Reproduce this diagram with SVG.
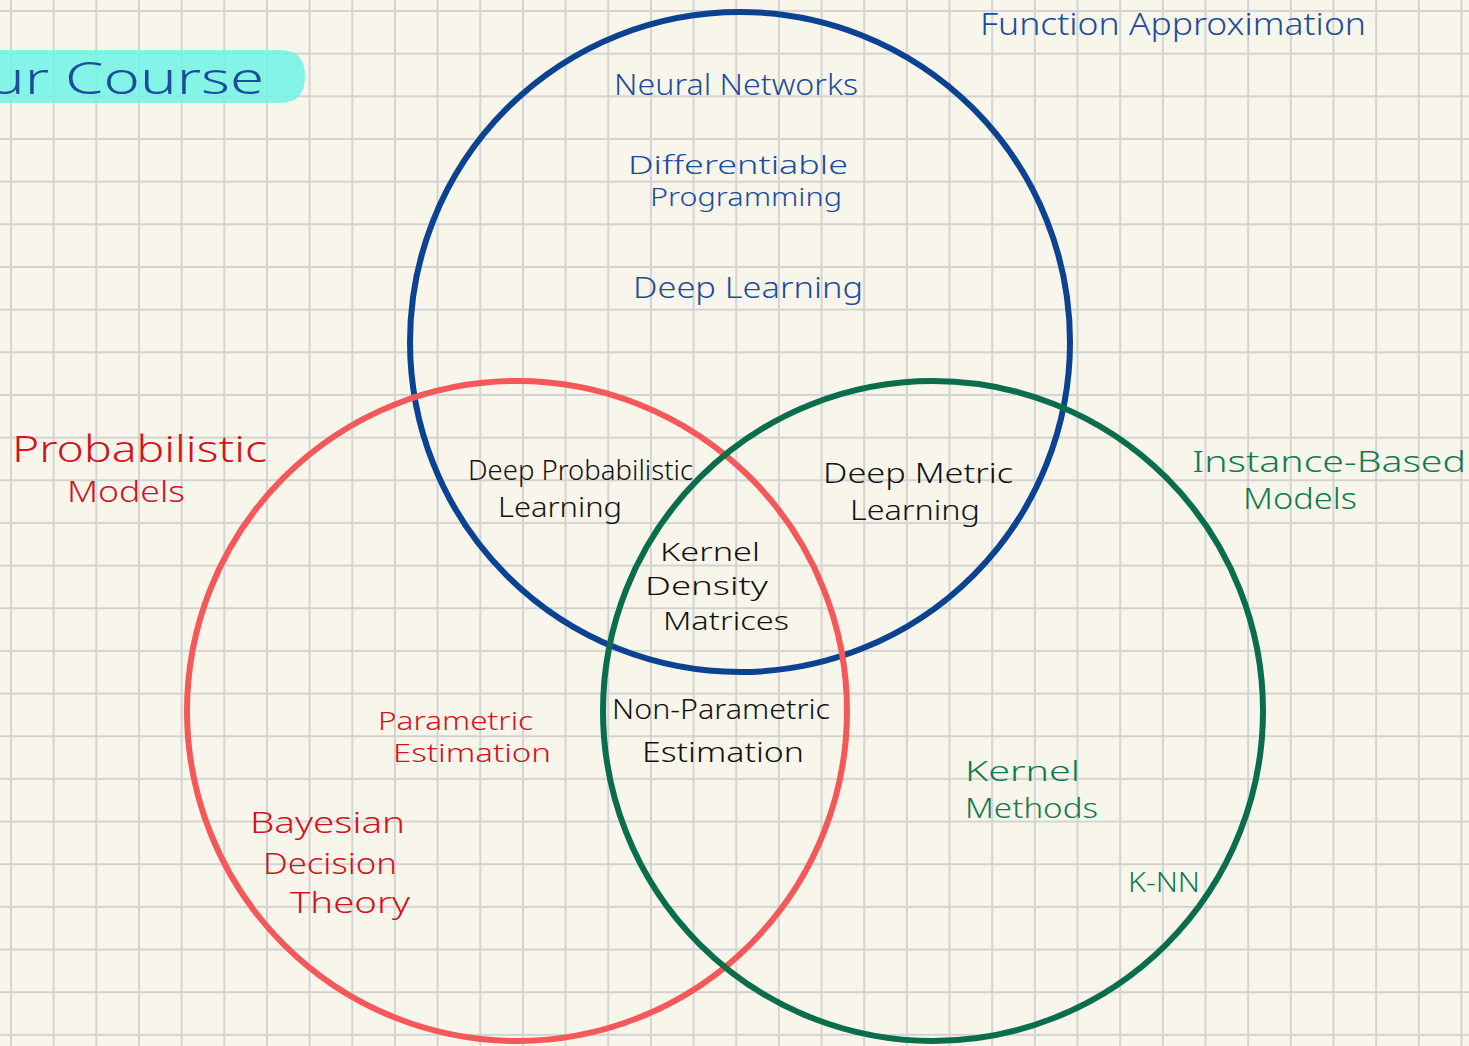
<svg xmlns="http://www.w3.org/2000/svg" width="1469" height="1046" viewBox="0 0 1469 1046">
  <defs>
    <pattern id="grid" patternUnits="userSpaceOnUse" x="10" y="10" width="42.66" height="42.66">
      <path d="M1 0V42.66M0 1H42.66" stroke="#d3d3d3" stroke-width="2" fill="none"/>
    </pattern>
    <style>
      .set { fill: none; stroke-width: 6; }
      .lbl { font-family: "Noto Sans", "Liberation Sans", sans-serif; font-size: 29px; font-weight: 300; }
      .s25 { font-size: 25px; }
      .s27 { font-size: 27px; }
      .s32 { font-size: 32px; }
      .s36 { font-size: 36px; }
      .s44 { font-size: 44px; }
      .blue { fill: #1c4c9c; }
      .red { fill: #d3121c; }
      .green { fill: #127a52; }
      .black { fill: #111111; }
    </style>
  </defs>

  <!-- paper -->
  <rect width="1469" height="1046" fill="#f8f6ea"/>
  <rect width="1469" height="1046" fill="url(#grid)"/>

  <!-- course title with highlighter stroke -->
  <g id="title">
    <path d="M-10 50 H280 Q305 50 305 76 Q305 103 280 103 H-10 Z" fill="#6ef3e4" opacity="0.85"/>
    <text x="-12" y="94" class="lbl s44 blue" textLength="276" lengthAdjust="spacingAndGlyphs">ur Course</text>
  </g>

  <!-- the three sets -->
  <g id="set-function-approximation">
    <circle class="set" cx="740" cy="342" r="330" stroke="#0b4291"/>
    <text x="980" y="35" class="lbl s32 blue" textLength="386" lengthAdjust="spacingAndGlyphs">Function Approximation</text>
  </g>
  <g id="set-probabilistic">
    <circle class="set" cx="517" cy="711" r="330" stroke="#f45858"/>
    <text x="12" y="462" class="lbl s36 red" textLength="255" lengthAdjust="spacingAndGlyphs">Probabilistic</text>
    <text x="67" y="502" class="lbl red" textLength="118" lengthAdjust="spacingAndGlyphs">Models</text>
  </g>
  <g id="set-instance-based">
    <circle class="set" cx="933" cy="711" r="330" stroke="#0a6e4c"/>
    <text x="1192" y="472" class="lbl green" textLength="274" lengthAdjust="spacingAndGlyphs">Instance-Based</text>
    <text x="1243" y="509" class="lbl green" textLength="114" lengthAdjust="spacingAndGlyphs">Models</text>
  </g>

  <!-- region labels -->
  <g id="neural-networks">
    <text x="614" y="95" class="lbl blue" textLength="244" lengthAdjust="spacingAndGlyphs">Neural Networks</text>
  </g>
  <g id="differentiable-programming">
    <text x="628" y="174" class="lbl s25 blue" textLength="220" lengthAdjust="spacingAndGlyphs">Differentiable</text>
    <text x="650" y="206" class="lbl s25 blue" textLength="192" lengthAdjust="spacingAndGlyphs">Programming</text>
  </g>
  <g id="deep-learning">
    <text x="633" y="298" class="lbl blue" textLength="230" lengthAdjust="spacingAndGlyphs">Deep Learning</text>
  </g>
  <g id="deep-probabilistic-learning">
    <text x="468" y="480" class="lbl s27 black" textLength="225" lengthAdjust="spacingAndGlyphs">Deep Probabilistic</text>
    <text x="498" y="517" class="lbl s27 black" textLength="124" lengthAdjust="spacingAndGlyphs">Learning</text>
  </g>
  <g id="deep-metric-learning">
    <text x="823" y="483" class="lbl s27 black" textLength="190" lengthAdjust="spacingAndGlyphs">Deep Metric</text>
    <text x="850" y="520" class="lbl s27 black" textLength="130" lengthAdjust="spacingAndGlyphs">Learning</text>
  </g>
  <g id="kernel-density-matrices">
    <text x="660" y="561" class="lbl s25 black" textLength="100" lengthAdjust="spacingAndGlyphs">Kernel</text>
    <text x="645" y="595" class="lbl s25 black" textLength="123" lengthAdjust="spacingAndGlyphs">Density</text>
    <text x="663" y="630" class="lbl s25 black" textLength="126" lengthAdjust="spacingAndGlyphs">Matrices</text>
  </g>
  <g id="non-parametric-estimation">
    <text x="612" y="719" class="lbl s27 black" textLength="218" lengthAdjust="spacingAndGlyphs">Non-Parametric</text>
    <text x="642" y="762" class="lbl s27 black" textLength="162" lengthAdjust="spacingAndGlyphs">Estimation</text>
  </g>
  <g id="parametric-estimation">
    <text x="378" y="730" class="lbl s25 red" textLength="155" lengthAdjust="spacingAndGlyphs">Parametric</text>
    <text x="393" y="762" class="lbl s25 red" textLength="158" lengthAdjust="spacingAndGlyphs">Estimation</text>
  </g>
  <g id="bayesian-decision-theory">
    <text x="250" y="833" class="lbl red" textLength="155" lengthAdjust="spacingAndGlyphs">Bayesian</text>
    <text x="263" y="874" class="lbl red" textLength="134" lengthAdjust="spacingAndGlyphs">Decision</text>
    <text x="290" y="913" class="lbl red" textLength="120" lengthAdjust="spacingAndGlyphs">Theory</text>
  </g>
  <g id="kernel-methods">
    <text x="965" y="781" class="lbl s27 green" textLength="115" lengthAdjust="spacingAndGlyphs">Kernel</text>
    <text x="965" y="818" class="lbl s27 green" textLength="133" lengthAdjust="spacingAndGlyphs">Methods</text>
  </g>
  <g id="k-nn">
    <text x="1128" y="892" class="lbl s27 green" textLength="72" lengthAdjust="spacingAndGlyphs">K-NN</text>
  </g>

  <!-- no connectors between the sets -->
  <g id="connectors"/>
</svg>
